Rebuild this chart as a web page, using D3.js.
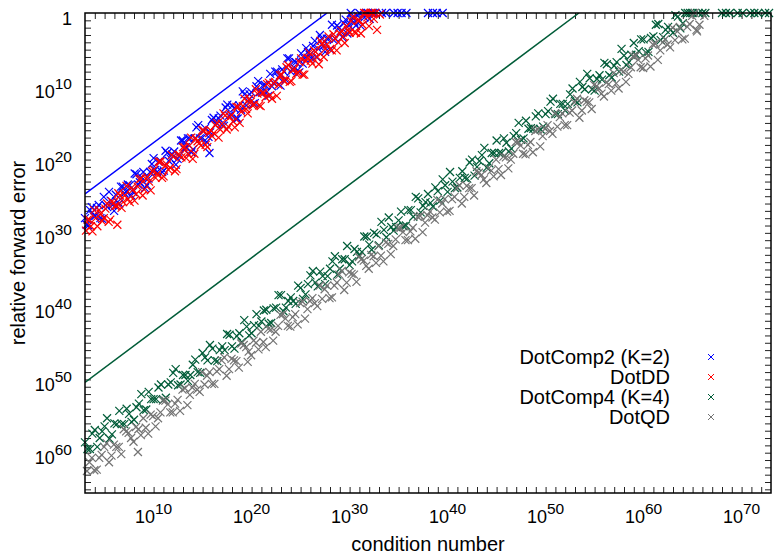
<!DOCTYPE html>
<html>
<head>
<meta charset="utf-8">
<script src="https://cdn.jsdelivr.net/npm/d3@7"></script>
<style>
  body { margin: 0; background: #fff; }
  text { font-family: "Liberation Sans", Arial, Helvetica, sans-serif; fill: #000; }
</style>
</head>
<body>
<div id="chart"></div>
<script>
/** Data: every point is [log10(condition number), log10(relative forward error)] **/
const dotComp2 = [
  [3.0,-28.0],[3.35,-29.0],[3.7,-26.5],[4.05,-27.7],[4.4,-26.2],[4.75,-28.1],[5.1,-26.2],[5.45,-24.4],
  [5.8,-26.2],[6.15,-24.8],[6.5,-26.0],[6.85,-23.7],[7.2,-24.4],[7.55,-23.5],[7.9,-24.4],[8.25,-22.0],
  [8.6,-23.1],[8.95,-21.7],[9.3,-23.5],[9.65,-21.7],[10.0,-19.8],[10.35,-21.7],[10.7,-20.2],[11.05,-21.5],
  [11.4,-19.1],[11.75,-19.9],[12.1,-18.9],[12.45,-19.9],[12.8,-17.4],[13.15,-18.6],[13.5,-17.1],[13.85,-19.0],
  [14.2,-17.1],[14.55,-15.3],[14.9,-17.1],[15.25,-15.7],[15.6,-16.9],[15.7,-19.1],[15.95,-14.6],[16.3,-15.3],
  [16.65,-14.4],[17.0,-15.3],[17.35,-12.9],[17.7,-14.0],[18.05,-12.6],[18.4,-14.4],[18.75,-12.6],[19.1,-10.7],
  [19.45,-12.6],[19.8,-11.1],[20.15,-12.4],[20.5,-10.0],[20.85,-10.8],[21.2,-9.8],[21.55,-10.8],[21.9,-8.3],
  [22.25,-9.5],[22.6,-8.0],[22.95,-9.9],[23.3,-8.0],[23.65,-6.2],[24.0,-8.0],[24.35,-6.6],[24.7,-7.8],
  [25.05,-5.5],[25.4,-6.2],[25.75,-5.3],[26.1,-6.2],[26.45,-3.8],[26.8,-4.9],[27.15,-3.5],[27.5,-5.3],
  [27.85,-3.5],[28.2,-1.6],[28.55,-3.5],[28.9,-2.0],[29.25,-3.3],[29.6,-0.9],[29.95,-1.7],[30.3,-0.7],
  [30.65,-1.7],[31.0,0],[31.35,-0.4],[31.7,0],[32.05,-0.8],[32.4,0],[33.3,0],[33.7,0],
  [34.5,0],[34.9,0],[35.3,0],[35.8,0],[38.0,0],[38.5,0],[38.9,0],[39.5,0],
  [3.17,-28.9],[3.52,-26.9],[3.87,-27.7],[4.22,-26.6],[4.57,-28.0],[4.92,-25.1],[5.27,-26.5],[5.62,-25.6],
  [5.97,-27.0],[6.32,-25.8],[6.67,-23.7],[7.02,-24.6],[7.37,-23.4],[7.72,-24.9],[8.07,-21.9],[8.42,-23.4],
  [8.77,-22.4],[9.12,-23.9],[9.47,-22.6],[9.82,-20.6],[10.17,-21.4],[10.52,-20.3],[10.87,-21.7],[11.22,-18.8],
  [11.57,-20.2],[11.92,-19.3],[12.27,-20.7],[12.62,-19.5],[12.97,-17.4],[13.32,-18.3],[13.67,-17.1],[14.02,-18.6],
  [14.37,-15.6],[14.72,-17.1],[15.07,-16.1],[15.42,-17.6],[15.77,-16.3],[16.12,-14.3],[16.47,-15.1],[16.82,-14.0],
  [17.17,-15.4],[17.52,-12.5],[17.87,-13.9],[18.22,-13.0],[18.57,-14.4],[18.92,-13.2],[19.27,-11.1],[19.62,-12.0],
  [19.97,-10.8],[20.32,-12.3],[20.67,-9.3],[21.02,-10.8],[21.37,-9.8],[21.72,-11.3],[22.07,-10.0],[22.42,-8.0],
  [22.77,-8.8],[23.12,-7.7],[23.47,-9.1],[23.82,-6.2],[24.17,-7.6],[24.52,-6.7],[24.87,-8.1],[25.22,-6.9],
  [25.57,-4.8],[25.92,-5.7],[26.27,-4.5],[26.62,-6.0],[26.97,-3.0],[27.32,-4.5],[27.67,-3.5],[28.02,-5.0],
  [28.37,-3.7],[28.72,-1.7],[29.07,-2.5],[29.42,-1.4],[29.77,-2.8],[30.12,0],[30.47,-1.3],[30.82,-0.4],
  [31.17,-1.8],[31.52,-0.6],[31.87,0],[32.22,0],[32.57,0]
];
const dotDD = [
  [3.1,-29.7],[3.43,-28.2],[3.76,-29.8],[4.09,-28.0],[4.42,-26.9],[4.75,-28.4],[5.08,-26.7],[5.41,-28.5],
  [5.74,-25.7],[6.07,-26.3],[6.3,-28.9],[6.4,-24.6],[6.73,-26.6],[7.06,-24.9],[7.39,-25.4],[7.72,-23.9],
  [8.05,-25.6],[8.38,-23.7],[8.71,-22.6],[9.04,-24.1],[9.37,-22.4],[9.7,-24.2],[10.03,-21.4],[10.36,-22.0],
  [10.69,-20.3],[11.02,-22.3],[11.35,-20.7],[11.68,-21.1],[12.01,-19.6],[12.34,-21.3],[12.67,-19.4],[13.0,-18.3],
  [13.33,-19.8],[13.66,-18.1],[13.99,-19.9],[14.32,-17.1],[14.65,-17.8],[14.98,-16.0],[15.31,-18.0],[15.64,-16.4],
  [15.97,-16.8],[16.3,-15.3],[16.63,-17.0],[16.96,-15.1],[17.29,-14.0],[17.62,-15.5],[17.95,-13.9],[18.28,-15.6],
  [18.61,-12.8],[18.94,-13.5],[19.27,-11.7],[19.6,-13.7],[19.93,-12.1],[20.26,-12.5],[20.59,-11.0],[20.92,-12.7],
  [21.25,-10.9],[21.58,-9.7],[21.91,-11.2],[22.24,-9.6],[22.57,-11.3],[22.9,-8.5],[23.23,-9.2],[23.56,-7.4],
  [23.89,-9.4],[24.22,-7.8],[24.55,-8.3],[24.88,-6.7],[25.21,-8.4],[25.54,-6.6],[25.87,-5.4],[26.2,-6.9],
  [26.53,-5.3],[26.86,-7.0],[27.19,-4.2],[27.52,-4.9],[27.85,-3.2],[28.18,-5.1],[28.51,-3.5],[28.84,-4.0],
  [29.17,-2.4],[29.5,-4.1],[29.83,-2.3],[30.16,-1.1],[30.49,-2.6],[30.82,-1.0],[31.15,-2.8],[31.48,0],
  [31.81,-0.6],[32.14,0],[32.47,-0.8],[32.8,-2.3],[33.1,-0.2],
  [3.27,-28.2],[3.6,-29.1],[3.93,-26.9],[4.26,-29.1],[4.59,-27.4],[4.92,-28.0],[5.25,-26.0],[5.58,-28.2],
  [5.91,-25.9],[6.24,-26.3],[6.57,-24.9],[6.9,-25.8],[7.23,-23.6],[7.56,-25.8],[7.89,-24.1],[8.22,-24.7],
  [8.55,-22.7],[8.88,-24.9],[9.21,-22.6],[9.54,-23.0],[9.87,-21.6],[10.2,-22.5],[10.53,-20.3],[10.86,-22.5],
  [11.19,-20.8],[11.52,-21.4],[11.85,-19.4],[12.18,-21.6],[12.51,-19.3],[12.84,-19.7],[13.17,-18.3],[13.5,-19.2],
  [13.83,-17.0],[14.16,-19.2],[14.49,-17.5],[14.82,-18.1],[15.15,-16.1],[15.48,-18.3],[15.81,-16.0],[16.14,-16.4],
  [16.47,-15.0],[16.8,-15.9],[17.13,-13.7],[17.46,-15.9],[17.79,-14.2],[18.12,-14.8],[18.45,-12.8],[18.78,-15.0],
  [19.11,-12.7],[19.44,-13.1],[19.77,-11.7],[20.1,-12.6],[20.43,-10.4],[20.76,-12.6],[21.09,-10.9],[21.42,-11.5],
  [21.75,-9.5],[22.08,-11.7],[22.41,-9.4],[22.74,-9.8],[23.07,-8.4],[23.4,-9.3],[23.73,-7.1],[24.06,-9.3],
  [24.39,-7.6],[24.72,-8.2],[25.05,-6.2],[25.38,-8.4],[25.71,-6.1],[26.04,-6.5],[26.37,-5.1],[26.7,-6.0],
  [27.03,-3.8],[27.36,-6.0],[27.69,-4.3],[28.02,-4.9],[28.35,-2.9],[28.68,-5.1],[29.01,-2.8],[29.34,-3.2],
  [29.67,-1.8],[30.0,-2.7],[30.33,-0.5],[30.66,-2.7],[30.99,-1.0],[31.32,-1.6],[31.65,0],[31.98,-1.8],
  [32.31,0],[32.64,0]
];
const dotComp4 = [
  [3.0,-58.6],[3.5,-59.5],[4.0,-56.9],[4.5,-58.0],[5.0,-56.4],[5.5,-58.1],[6.0,-56.0],[6.5,-54.3],
  [7.0,-56.1],[7.5,-54.7],[8.0,-55.5],[8.5,-53.3],[9.0,-54.2],[9.5,-51.7],[10.0,-52.7],[10.5,-51.1],
  [11.0,-52.8],[11.5,-50.7],[12.0,-49.1],[12.5,-50.8],[13.0,-49.4],[13.5,-50.2],[14.0,-48.0],[14.5,-49.0],
  [15.0,-46.4],[15.5,-47.4],[16.0,-45.8],[16.5,-47.5],[17.0,-45.5],[17.5,-43.8],[18.0,-45.5],[18.5,-44.1],
  [19.0,-44.9],[19.5,-42.8],[20.0,-43.7],[20.5,-41.1],[21.0,-42.1],[21.5,-40.5],[22.0,-42.3],[22.5,-40.2],
  [23.0,-38.5],[23.5,-40.2],[24.0,-38.8],[24.5,-39.7],[25.0,-37.5],[25.5,-38.4],[26.0,-35.8],[26.5,-36.8],
  [27.0,-35.3],[27.5,-37.0],[28.0,-34.9],[28.5,-33.2],[29.0,-34.9],[29.5,-33.6],[30.0,-34.4],[30.5,-32.2],
  [31.0,-33.1],[31.5,-30.5],[32.0,-31.6],[32.5,-30.0],[33.0,-31.7],[33.5,-29.6],[34.0,-27.9],[34.5,-29.7],
  [35.0,-28.3],[35.5,-29.1],[36.0,-26.9],[36.5,-27.8],[37.0,-25.3],[37.5,-26.3],[38.0,-24.7],[38.5,-26.4],
  [39.0,-24.3],[39.5,-22.7],[40.0,-24.4],[40.5,-23.0],[41.0,-23.8],[41.5,-21.6],[42.0,-22.6],[42.5,-20.0],
  [43.0,-21.0],[43.5,-19.4],[44.0,-21.1],[44.5,-19.1],[45.0,-17.4],[45.5,-19.1],[46.0,-17.7],[46.5,-18.5],
  [47.0,-16.4],[47.5,-17.3],[48.0,-14.7],[48.5,-15.7],[49.0,-14.1],[49.5,-15.9],[50.0,-13.8],[50.5,-12.1],
  [51.0,-13.8],[51.5,-12.4],[52.0,-13.3],[52.5,-11.1],[53.0,-12.0],[53.5,-9.4],[54.0,-10.4],[54.5,-8.9],
  [55.0,-10.6],[55.5,-8.5],[56.0,-6.8],[56.5,-8.5],[57.0,-7.2],[57.5,-8.0],[58.0,-5.8],[58.5,-6.7],
  [59.0,-4.1],[59.5,-5.2],[60.0,-3.6],[60.5,-5.3],[61.0,-3.2],[61.5,-1.5],[62.0,-3.3],[62.5,-1.9],
  [63.0,-2.7],[63.5,-0.5],[64.0,-1.4],[64.5,0],[65.0,0],[65.6,0],[66.0,0],[66.3,0],
  [68.0,0],[68.4,0],[68.8,0],[69.6,0],[70.1,0],[70.9,0],[71.3,0],[71.7,0],[72.4,0],[72.8,0],
  [3.25,-59.5],[3.75,-57.4],[4.25,-59.2],[4.75,-57.1],[5.25,-55.3],[5.75,-57.5],[6.25,-56.1],[6.75,-56.1],
  [7.25,-54.0],[7.75,-55.8],[8.25,-53.8],[8.75,-52.0],[9.25,-54.1],[9.75,-52.7],[10.25,-52.7],[10.75,-50.7],
  [11.25,-52.5],[11.75,-50.4],[12.25,-48.6],[12.75,-50.7],[13.25,-49.4],[13.75,-49.4],[14.25,-47.3],[14.75,-49.1],
  [15.25,-47.0],[15.75,-45.3],[16.25,-47.4],[16.75,-46.0],[17.25,-46.0],[17.75,-43.9],[18.25,-45.8],[18.75,-43.7],
  [19.25,-41.9],[19.75,-44.0],[20.25,-42.6],[20.75,-42.7],[21.25,-40.6],[21.75,-42.4],[22.25,-40.3],[22.75,-38.5],
  [23.25,-40.7],[23.75,-39.3],[24.25,-39.3],[24.75,-37.2],[25.25,-39.0],[25.75,-37.0],[26.25,-35.2],[26.75,-37.3],
  [27.25,-35.9],[27.75,-35.9],[28.25,-33.9],[28.75,-35.7],[29.25,-33.6],[29.75,-31.8],[30.25,-33.9],[30.75,-32.6],
  [31.25,-32.6],[31.75,-30.5],[32.25,-32.3],[32.75,-30.2],[33.25,-28.5],[33.75,-30.6],[34.25,-29.2],[34.75,-29.2],
  [35.25,-27.1],[35.75,-29.0],[36.25,-26.9],[36.75,-25.1],[37.25,-27.2],[37.75,-25.8],[38.25,-25.9],[38.75,-23.8],
  [39.25,-25.6],[39.75,-23.5],[40.25,-21.7],[40.75,-23.9],[41.25,-22.5],[41.75,-22.5],[42.25,-20.4],[42.75,-22.2],
  [43.25,-20.2],[43.75,-18.4],[44.25,-20.5],[44.75,-19.1],[45.25,-19.1],[45.75,-17.1],[46.25,-18.9],[46.75,-16.8],
  [47.25,-15.0],[47.75,-17.1],[48.25,-15.8],[48.75,-15.8],[49.25,-13.7],[49.75,-15.5],[50.25,-13.4],[50.75,-11.7],
  [51.25,-13.8],[51.75,-12.4],[52.25,-12.4],[52.75,-10.3],[53.25,-12.2],[53.75,-10.1],[54.25,-8.3],[54.75,-10.4],
  [55.25,-9.0],[55.75,-9.1],[56.25,-7.0],[56.75,-8.8],[57.25,-6.7],[57.75,-4.9],[58.25,-7.1],[58.75,-5.7],
  [59.25,-5.7],[59.75,-3.6],[60.25,-5.4],[60.75,-3.4],[61.25,-1.6],[61.75,-3.7],[62.25,-2.3],[62.75,-2.3],
  [63.25,-0.3],[63.75,-2.1],[64.25,0],[64.75,0]
];
const dotQD = [
  [3.2,-62.5],[3.7,-60.7],[4.2,-62.3],[4.7,-60.3],[5.2,-58.7],[5.7,-60.4],[6.2,-59.2],[6.7,-60.2],
  [7.2,-57.1],[7.7,-58.0],[8.2,-56.5],[8.4,-59.9],[8.7,-57.6],[9.2,-56.6],[9.7,-54.8],[10.2,-56.4],
  [10.7,-54.5],[11.2,-52.9],[11.7,-54.5],[12.2,-53.3],[12.7,-54.3],[13.2,-51.2],[13.7,-52.1],[14.2,-50.6],
  [14.7,-51.7],[15.2,-50.7],[15.7,-49.0],[16.2,-50.6],[16.7,-48.6],[17.2,-47.0],[17.7,-48.6],[18.2,-47.4],
  [18.7,-48.4],[19.2,-45.3],[19.6,-47.6],[19.7,-46.2],[20.2,-44.7],[20.7,-45.9],[21.2,-44.9],[21.7,-43.1],
  [22.2,-44.7],[22.7,-42.7],[23.2,-41.1],[23.7,-42.7],[24.2,-41.5],[24.7,-42.5],[25.2,-39.4],[25.7,-40.4],
  [26.2,-38.9],[26.7,-40.0],[27.2,-39.0],[27.7,-37.2],[28.2,-38.8],[28.7,-36.8],[29.2,-35.2],[29.7,-36.8],
  [30.2,-35.6],[30.7,-36.7],[31.2,-33.6],[31.7,-34.5],[32.2,-33.0],[32.7,-34.1],[33.2,-33.1],[33.7,-31.3],
  [34.2,-32.9],[34.7,-30.9],[35.2,-29.3],[35.7,-31.0],[36.2,-29.8],[36.7,-30.8],[37.2,-27.7],[37.7,-28.6],
  [38.2,-27.1],[38.7,-28.2],[39.2,-27.2],[39.7,-25.4],[40.2,-27.0],[40.7,-25.1],[41.2,-23.5],[41.7,-25.1],
  [42.2,-23.9],[42.7,-24.9],[43.2,-21.8],[43.7,-22.7],[44.2,-21.2],[44.7,-22.3],[45.2,-21.3],[45.7,-19.6],
  [46.2,-21.2],[46.7,-19.2],[47.2,-17.6],[47.7,-19.2],[48.2,-18.0],[48.7,-19.0],[49.2,-15.9],[49.7,-16.8],
  [50.2,-15.3],[50.7,-16.5],[51.2,-15.5],[51.7,-13.7],[52.2,-15.3],[52.7,-13.3],[53.2,-11.7],[53.7,-13.3],
  [54.2,-12.1],[54.7,-13.1],[55.2,-10.0],[55.7,-11.0],[56.2,-9.5],[56.7,-10.6],[57.2,-9.6],[57.7,-7.8],
  [58.2,-9.4],[58.7,-7.4],[59.2,-5.8],[59.7,-7.4],[60.2,-6.2],[60.7,-7.3],[61.2,-4.2],[61.7,-5.1],
  [62.2,-3.6],[62.7,-4.7],[63.2,-3.7],[63.7,-1.9],[64.2,-3.5],[64.7,-1.5],[65.2,0],[65.4,-2.3],
  [65.7,-1.6],[66.2,-0.4],
  [3.45,-61.3],[3.95,-62.4],[4.45,-60.7],[4.95,-59.2],[5.45,-61.3],[5.95,-58.9],[6.45,-59.2],[6.95,-56.8],
  [7.45,-57.3],[7.95,-58.5],[8.45,-56.8],[8.95,-55.3],[9.45,-57.4],[9.95,-55.0],[10.45,-55.3],[10.95,-52.9],
  [11.45,-53.4],[11.95,-54.5],[12.45,-52.8],[12.95,-51.4],[13.45,-53.5],[13.95,-51.1],[14.45,-51.4],[14.95,-49.0],
  [15.45,-49.5],[15.95,-50.6],[16.45,-48.9],[16.95,-47.4],[17.45,-49.5],[17.95,-47.2],[18.45,-47.5],[18.95,-45.1],
  [19.45,-45.6],[19.95,-46.7],[20.45,-45.0],[20.95,-43.5],[21.45,-45.6],[21.95,-43.2],[22.45,-43.5],[22.95,-41.2],
  [23.45,-41.7],[23.95,-42.8],[24.45,-41.1],[24.95,-39.6],[25.45,-41.7],[25.95,-39.3],[26.45,-39.6],[26.95,-37.2],
  [27.45,-37.7],[27.95,-38.9],[28.45,-37.2],[28.95,-35.7],[29.45,-37.8],[29.95,-35.4],[30.45,-35.7],[30.95,-33.3],
  [31.45,-33.8],[31.95,-34.9],[32.45,-33.2],[32.95,-31.8],[33.45,-33.9],[33.95,-31.5],[34.45,-31.8],[34.95,-29.4],
  [35.45,-29.9],[35.95,-31.0],[36.45,-29.3],[36.95,-27.8],[37.45,-29.9],[37.95,-27.6],[38.45,-27.9],[38.95,-25.5],
  [39.45,-26.0],[39.95,-27.1],[40.45,-25.4],[40.95,-23.9],[41.45,-26.0],[41.95,-23.6],[42.45,-23.9],[42.95,-21.6],
  [43.45,-22.1],[43.95,-23.2],[44.45,-21.5],[44.95,-20.0],[45.45,-22.1],[45.95,-19.7],[46.45,-20.0],[46.95,-17.6],
  [47.45,-18.1],[47.95,-19.3],[48.45,-17.6],[48.95,-16.1],[49.45,-18.2],[49.95,-15.8],[50.45,-16.1],[50.95,-13.7],
  [51.45,-14.2],[51.95,-15.3],[52.45,-13.6],[52.95,-12.2],[53.45,-14.3],[53.95,-11.9],[54.45,-12.2],[54.95,-9.8],
  [55.45,-10.3],[55.95,-11.4],[56.45,-9.7],[56.95,-8.2],[57.45,-10.3],[57.95,-8.0],[58.45,-8.3],[58.95,-5.9],
  [59.45,-6.4],[59.95,-7.5],[60.45,-5.8],[60.95,-4.3],[61.45,-6.4],[61.95,-4.0],[62.45,-4.3],[62.95,-2.0],
  [63.45,-2.5],[63.95,-3.6],[64.45,-1.9],[64.95,-0.4],[65.45,-2.5]
];
// theoretical bounds, straight lines in log-log space
const boundComp2 = [[3, -24.7], [27.7, 0]];
const boundComp4 = [[3, -50.4], [53.4, 0]];

const seriesNames = ['DotComp2 (K=2)', 'DotDD', 'DotComp4 (K=4)', 'DotQD'];
const seriesColors = ['#0000ff', '#ff0000', '#005c38', '#737373'];
const xLabelExps = [10, 20, 30, 40, 50, 60, 70];
const yLabelExps = [0, 10, 20, 30, 40, 50, 60];

/** Chart frame **/
const width = 774;
const height = 555;
const margin = { top: 13, right: 3, bottom: 62, left: 85 };
const x0 = margin.left, x1 = width - margin.right;
const y0 = height - margin.bottom, y1 = margin.top;

const svg = d3
  .select('#chart')
  .append('svg')
  .attr('width', width)
  .attr('height', height);

const x = d3.scaleLog().domain([1e3, 1e73]).range([x0, x1]);
const y = d3.scaleLog().domain([Math.pow(10, -65.5), 1]).range([y0, y1]);
const px = (c) => x(Math.pow(10, c));
const py = (e) => y(Math.pow(10, e));

svg.append('clipPath').attr('id', 'plot-clip')
  .append('rect')
  .attr('x', x0).attr('y', y1)
  .attr('width', x1 - x0).attr('height', y0 - y1);

/** Ticks: one per decade, mirrored on all four sides **/
const xTicks = d3.range(4, 73).map((c) => Math.pow(10, c));
const yTicks = d3.range(-65, 0).map((e) => Math.pow(10, e));
const tick = 6;

const axes = [
  [d3.axisBottom(x).tickValues(xTicks), `translate(0,${y0})`],
  [d3.axisTop(x).tickValues(xTicks), `translate(0,${y1})`],
  [d3.axisLeft(y).tickValues(yTicks), `translate(${x0},0)`],
  [d3.axisRight(y).tickValues(yTicks), `translate(${x1},0)`],
];
axes.forEach(([ax, tr]) => {
  const g = svg.append('g')
    .attr('transform', tr)
    .call(ax.tickSizeInner(-tick).tickSizeOuter(0).tickFormat(''));
  g.select('.domain').remove();
  g.selectAll('line').attr('stroke', '#222').attr('stroke-width', 1);
});

/** Tick labels **/
const xl = svg.append('g').attr('font-size', 18).attr('text-anchor', 'middle');
xLabelExps.forEach((c) => {
  const t = xl.append('text').attr('x', px(c)).attr('y', y0 + 30);
  t.append('tspan').text('10');
  t.append('tspan').attr('font-size', 15.5).attr('dy', -9).text(c);
});

const yl = svg.append('g').attr('font-size', 18).attr('text-anchor', 'end');
yLabelExps.forEach((e) => {
  const t = yl.append('text').attr('x', 72).attr('y', py(-e) + 11.5);
  if (e === 0) {
    t.text('1');
  } else {
    t.append('tspan').text('10');
    t.append('tspan').attr('font-size', 15.5).attr('dy', -9).text(e);
  }
});

/** Axis titles **/
svg.append('text')
  .attr('x', (x0 + x1) / 2).attr('y', 551)
  .attr('text-anchor', 'middle').attr('font-size', 20)
  .text('condition number');
svg.append('text')
  .attr('transform', `translate(25,${(y0 + y1) / 2}) rotate(-90)`)
  .attr('text-anchor', 'middle').attr('font-size', 20)
  .text('relative forward error');

/** Bound lines **/
const line = d3.line().x((d) => px(d[0])).y((d) => py(d[1]));
[[boundComp2, seriesColors[0]], [boundComp4, seriesColors[2]]].forEach(([d, col]) => {
  svg.append('path')
    .attr('d', line(d))
    .attr('fill', 'none')
    .attr('stroke', col)
    .attr('stroke-width', 1.5)
    .attr('clip-path', 'url(#plot-clip)');
});

/** Scatter of crosses **/
const cross = 'M-4,-4L4,4M-4,4L4,-4';
[dotComp2, dotDD, dotComp4, dotQD].forEach((pts, i) => {
  svg.append('g')
    .selectAll('path')
    .data(pts)
    .join('path')
    .attr('d', cross)
    .attr('transform', (d) => `translate(${px(d[0])},${py(d[1])})`)
    .attr('fill', 'none')
    .attr('stroke', seriesColors[i])
    .attr('stroke-width', 1.2);
});

/** Frame **/
svg.append('rect')
  .attr('x', x0).attr('y', y1)
  .attr('width', x1 - x0).attr('height', y0 - y1)
  .attr('fill', 'none').attr('stroke', '#000').attr('stroke-width', 1.5);

/** Legend **/
const legend = svg.append('g').attr('font-size', 20);
seriesNames.forEach((name, i) => {
  const yy = 364 + i * 20;
  legend.append('text')
    .attr('x', 670).attr('y', yy)
    .attr('text-anchor', 'end')
    .text(name);
  legend.append('path')
    .attr('d', 'M-3,-3L3,3M-3,3L3,-3')
    .attr('transform', `translate(711,${yy - 7})`)
    .attr('fill', 'none')
    .attr('stroke', seriesColors[i])
    .attr('stroke-width', 1);
});
</script>
</body>
</html>
